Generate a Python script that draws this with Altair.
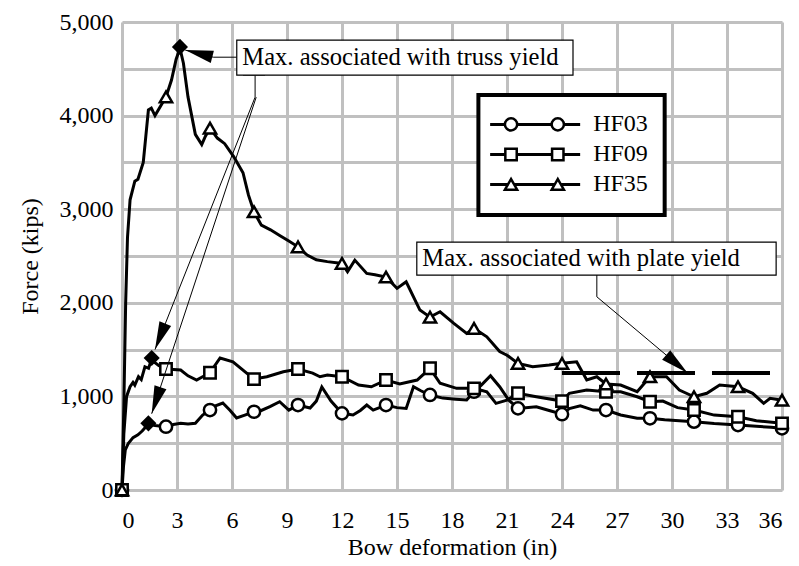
import math
import altair as alt
import pandas as pd

# ---------------- data ----------------
hf03_x = [0, 0.08, 0.18, 0.35, 0.6, 0.87, 1.1, 1.44, 1.8, 2.4, 2.8, 3.2, 3.6, 4.0, 4.4, 4.8, 5.1, 5.5, 5.9, 6.25,
          6.7, 7.2, 7.6, 8.07, 8.6, 9.1, 9.6, 10.26, 10.6, 10.9, 11.4, 12.0, 12.6, 13.0, 13.35, 13.7, 14.4, 15.0,
          15.5, 15.9, 16.3, 16.8, 17.5, 18.2, 18.8, 19.2, 19.6, 20.1, 20.6, 21.1, 21.6, 22.6, 23.3, 24.0, 24.4,
          25.0, 25.7, 26.4, 27.2, 28.1, 28.8, 29.6, 30.4, 31.2, 32.3, 33.6, 34.6, 35.4, 36]
hf03_y = [0, 250, 430, 500, 560, 590, 630, 705, 690, 676, 700, 712, 705, 712, 800, 854, 900, 929, 850, 769,
          800, 836, 850, 890, 943, 854, 908, 876, 950, 1100, 950, 819, 801, 850, 908, 854, 908, 880,
          872, 1103, 1060, 1015, 982, 970, 961, 1050, 1120, 1220, 1103, 960, 872, 890, 850, 810, 870,
          900, 854, 854, 801, 766, 766, 750, 740, 730, 710, 694, 680, 670, 659]

hf09_x = [0, 0.1, 0.25, 0.44, 0.6, 0.7, 0.9, 1.05, 1.25, 1.45, 1.6, 2.0, 2.4, 3.2, 3.6, 4.07, 4.8, 5.35, 6.05,
          6.8, 7.2, 7.9, 8.8, 9.6, 10.4, 10.8, 11.2, 12.0, 12.9, 13.6, 14.4, 15.15, 16.1, 16.8, 17.35, 18.25,
          19.2, 19.9, 20.4, 21.0, 21.6, 22.6, 24.0, 24.4, 25.35, 26.4, 27.2, 28.1, 28.8, 29.5, 30.3, 31.2,
          32.3, 33.6, 34.6, 36]
hf09_y = [0, 600, 1000, 1103, 1150, 1120, 1210, 1180, 1317, 1300, 1390, 1330, 1292, 1282, 1220, 1175, 1253,
          1410, 1370, 1249, 1185, 1210, 1263, 1292, 1249, 1210, 1228, 1210, 1121, 1103, 1175, 1132, 1175,
          1300, 1140, 1086, 1086, 1050, 926, 960, 1033, 996, 950, 1033, 1068, 1050, 1050, 996, 943, 950,
          880, 854, 800, 783, 740, 712]

hf35_x = [0, 0.1, 0.2, 0.3, 0.44, 0.7, 0.87, 1.16, 1.3, 1.44, 1.6, 1.8, 2.1, 2.4, 2.7, 2.95, 3.16, 3.35, 3.6,
          4.0, 4.35, 4.55, 4.8, 5.2, 5.6, 6.1, 6.6, 6.9, 7.2, 7.6, 8.1, 8.6, 9.1, 9.6, 10.1, 10.6, 11.2, 12.0,
          12.3, 12.7, 13.35, 13.8, 14.4, 15.0, 15.5, 16.25, 16.8, 17.35, 18.1, 18.8, 19.2, 19.9, 20.6, 21.0,
          21.6, 22.4, 23.3, 24.0, 24.8, 25.35, 25.9, 26.4, 27.2, 28.1, 28.8, 29.7, 30.4, 31.2, 31.9, 32.6,
          33.6, 34.4, 35.0, 35.35, 36]
hf35_y = [0, 900, 2000, 2700, 3100, 3300, 3320, 3500, 3780, 4060, 4080, 4000, 4100, 4200, 4380, 4600, 4720,
          4560, 4200, 3800, 3690, 3780, 3866, 3760, 3700, 3560, 3390, 3150, 2972, 2830, 2780, 2720, 2660,
          2598, 2510, 2460, 2440, 2421, 2331, 2456, 2314, 2300, 2275, 2154, 2225, 1922, 1847, 1904, 1780,
          1673, 1727, 1637, 1480, 1440, 1353, 1317, 1335, 1353, 1370, 1175, 1210, 1132, 1121, 1050, 1210,
          1210, 1068, 996, 1033, 1121, 1103, 1033, 926, 979, 960]

marker_x = [0, 2.4, 4.8, 7.2, 9.6, 12, 14.4, 16.8, 19.2, 21.6, 24, 26.4, 28.8, 31.2, 33.6, 36]
hf03_mk = [0, 676, 854, 836, 908, 819, 908, 1015, 1050, 872, 810, 854, 766, 730, 694, 659]
hf09_mk = [0, 1292, 1253, 1185, 1292, 1210, 1175, 1300, 1086, 1033, 950, 1050, 943, 854, 783, 712]
hf35_mk = [0, 4200, 3866, 2972, 2598, 2421, 2275, 1847, 1727, 1353, 1353, 1132, 1210, 996, 1103, 960]

series_names = ["HF03", "HF09", "HF35"]
series_shapes = ["circle", "square", "triangle-up"]

# maxima marked with diamonds
max_x = [3.16, 1.62, 1.44]
max_y = [4734, 1410, 712]

# plate-yield level line
plate_level = 1250
plate_from, plate_to = 24.0, 35.5

# annotation boxes (data units)
box_text = ["Max. associated with truss yield", "Max. associated with plate yield"]
box_x1 = [6.26, 16.08]
box_x2 = [24.6, 35.68]
box_y1 = [4806, 2649]
box_y2 = [4432, 2296]

# leader lines (polylines, last point is the arrow tip)
arrow_paths = [
    [(6.26, 4624), (4.98, 4624), (3.45, 4700)],
    [(7.26, 4432), (7.26, 4197), (1.8, 1500)],
    [(7.32, 4197), (1.62, 815)],
    [(25.9, 2296), (25.9, 2064), (30.85, 1250)],
]
bracket_x = [6.6, 7.8]
bracket_y = 4432

# legend (data units)
leg_box = (19.44, 29.6, 4219, 2937)
leg_line_x = (20.08, 24.99)
leg_mark_x = [21.22, 23.77]
leg_text_x = 25.7
leg_rows_y = [3906, 3585, 3265]

X_MAX, Y_MAX = 36, 5000
W, H = 660, 468
FONT = "Liberation Serif"
FS = 24
FS_BOX = 24.6

xs = alt.Scale(domain=[0, X_MAX], nice=False, zero=False)
ys = alt.Scale(domain=[0, Y_MAX], nice=False, zero=False)

# ---------------- build tables ----------------
rows = []
for name, xv, yv in zip(series_names, [hf03_x, hf09_x, hf35_x], [hf03_y, hf09_y, hf35_y]):
    for i, (a, b) in enumerate(zip(xv, yv)):
        rows.append({"x": a, "y": b, "s": name, "o": i})
lines_df = pd.DataFrame(rows)

x_enc = alt.X("x:Q", scale=xs, axis=alt.Axis(
    values=list(range(0, 37, 3)), grid=True, gridColor="#c0c0c0", gridWidth=3,
    domain=False, ticks=False, labelPadding=30, labelBaseline="middle",
    labelFont=FONT, labelFontSize=FS, labelColor="black",
    title="Bow deformation (in)", titleFont=FONT, titleFontSize=FS, titleFontWeight="normal",
    titleColor="black", titleY=57, titleBaseline="middle"))
y_enc = alt.Y("y:Q", scale=ys, axis=alt.Axis(
    values=list(range(0, 5001, 500)), grid=True, gridColor="#c0c0c0", gridWidth=3,
    domain=False, ticks=False, labelPadding=9, labelBaseline="middle",
    labelExpr="datum.value % 1000 == 0 ? format(datum.value, ',') : ''",
    labelFont=FONT, labelFontSize=FS, labelColor="black",
    title="Force (kips)", titleFont=FONT, titleFontSize=FS, titleFontWeight="normal",
    titleColor="black", titleX=-92, titleY=H / 2, titleAngle=270, titleAlign="center",
    titleBaseline="middle"))

base_lines = alt.Chart(lines_df).mark_line(color="black", strokeWidth=3).encode(
    x=x_enc, y=y_enc, detail="s:N", order="o:Q")

layers = [base_lines]
for name, shape, mk in zip(series_names, series_shapes, [hf03_mk, hf09_mk, hf35_mk]):
    dfm = pd.DataFrame({"x": marker_x, "y": mk})
    sz = 150 if shape == "circle" else (130 if shape == "square" else 150)
    layers.append(alt.Chart(dfm).mark_point(shape=shape, filled=True, fill="white", stroke="black",
                                            strokeWidth=2.5, size=sz, opacity=1).encode(
        x=alt.X("x:Q", scale=xs), y=alt.Y("y:Q", scale=ys)))

# plate level dashed line
plate_df = pd.DataFrame({"x": [plate_from], "x2": [plate_to], "y": [plate_level]})
layers.append(alt.Chart(plate_df).mark_rule(color="black", strokeWidth=4, strokeDash=[58, 17]).encode(
    x=alt.X("x:Q", scale=xs), x2="x2:Q", y=alt.Y("y:Q", scale=ys)))

# maxima diamonds
layers.append(alt.Chart(pd.DataFrame({"x": max_x, "y": max_y})).mark_point(
    shape="diamond", filled=True, color="black", size=260, opacity=1).encode(
    x=alt.X("x:Q", scale=xs), y=alt.Y("y:Q", scale=ys)))

# leader lines
lrows = []
heads = []
for k, path in enumerate(arrow_paths):
    for i, (a, b) in enumerate(path):
        lrows.append({"x": a, "y": b, "k": k, "o": i})
    (xa, ya), (xb, yb) = path[-2], path[-1]
    dx = (xb - xa) / X_MAX * W
    dy = -(yb - ya) / Y_MAX * H
    ang = math.degrees(math.atan2(dx, -dy)) % 360
    heads.append({"x": xb, "y": yb, "a": ang})
layers.append(alt.Chart(pd.DataFrame(lrows)).mark_line(color="black", strokeWidth=1).encode(
    x=alt.X("x:Q", scale=xs), y=alt.Y("y:Q", scale=ys), detail="k:N", order="o:Q"))
layers.append(alt.Chart(pd.DataFrame(heads)).mark_point(
    shape="M0,0L-0.45,2L0.45,2Z", filled=True, color="black", size=780, opacity=1).encode(
    x=alt.X("x:Q", scale=xs), y=alt.Y("y:Q", scale=ys), angle=alt.Angle("a:Q", scale=None)))

# bracket under truss box
br_df = pd.DataFrame({"x": [bracket_x[0]], "x2": [bracket_x[1]], "y": [bracket_y]})
layers.append(alt.Chart(br_df).mark_rule(color="black", strokeWidth=1).encode(
    x=alt.X("x:Q", scale=xs), x2="x2:Q", y=alt.Y("y:Q", scale=ys)))

# annotation boxes
box_df = pd.DataFrame({"x": box_x1, "x2": box_x2, "y": box_y1, "y2": box_y2, "t": box_text})
layers.append(alt.Chart(box_df).mark_rect(fill="white", stroke="black", strokeWidth=1.2).encode(
    x=alt.X("x:Q", scale=xs), x2="x2:Q", y=alt.Y("y:Q", scale=ys), y2="y2:Q"))
box_df["xm"] = [a + 0.3 for a in box_x1]
box_df["ym"] = [(a + b) / 2 for a, b in zip(box_y1, box_y2)]
layers.append(alt.Chart(box_df).mark_text(align="left", baseline="middle", font=FONT, fontSize=FS_BOX,
                                          color="black").encode(
    x=alt.X("xm:Q", scale=xs), y=alt.Y("ym:Q", scale=ys), text="t:N"))

# legend
lb = pd.DataFrame({"x": [leg_box[0]], "x2": [leg_box[1]], "y": [leg_box[2]], "y2": [leg_box[3]]})
layers.append(alt.Chart(lb).mark_rect(fill="white", stroke="black", strokeWidth=4).encode(
    x=alt.X("x:Q", scale=xs), x2="x2:Q", y=alt.Y("y:Q", scale=ys), y2="y2:Q"))
ll = pd.DataFrame({"x": [leg_line_x[0]] * 3, "x2": [leg_line_x[1]] * 3, "y": leg_rows_y})
layers.append(alt.Chart(ll).mark_rule(color="black", strokeWidth=3).encode(
    x=alt.X("x:Q", scale=xs), x2="x2:Q", y=alt.Y("y:Q", scale=ys)))
for name, shape, yy in zip(series_names, series_shapes, leg_rows_y):
    sz = 150 if shape == "circle" else (130 if shape == "square" else 150)
    dm = pd.DataFrame({"x": leg_mark_x, "y": [yy, yy]})
    layers.append(alt.Chart(dm).mark_point(shape=shape, filled=True, fill="white", stroke="black",
                                           strokeWidth=2.5, size=sz, opacity=1).encode(
        x=alt.X("x:Q", scale=xs), y=alt.Y("y:Q", scale=ys)))
lt = pd.DataFrame({"x": [leg_text_x] * 3, "y": leg_rows_y, "t": series_names})
layers.append(alt.Chart(lt).mark_text(align="left", baseline="middle", font=FONT, fontSize=FS,
                                      color="black").encode(
    x=alt.X("x:Q", scale=xs), y=alt.Y("y:Q", scale=ys), text="t:N"))

chart = alt.layer(*layers).properties(
    width=W, height=H,
    autosize=alt.AutoSizeParams(type="none"),
    padding={"left": 114, "top": 14, "right": 9, "bottom": 74},
).configure_view(stroke="black", strokeWidth=4.5).configure(background="white")

chart.save("out.html", embed_options={"renderer": "svg", "actions": False})
